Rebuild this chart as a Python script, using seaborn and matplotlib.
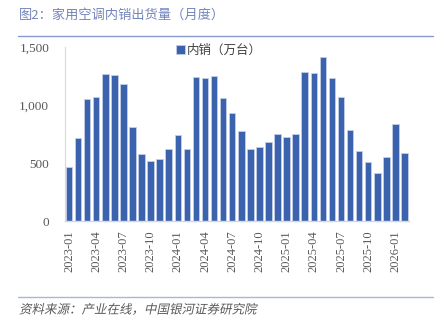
import matplotlib
matplotlib.use("Agg")
import matplotlib.pyplot as plt
import seaborn as sns
import pandas as pd
from matplotlib.patches import Patch
from matplotlib.lines import Line2D
from matplotlib.patheffects import AbstractPathEffect
from matplotlib.transforms import Affine2D

# ---------------- data ----------------
months = [
    "2023-01", "2023-02", "2023-03", "2023-04", "2023-05", "2023-06",
    "2023-07", "2023-08", "2023-09", "2023-10", "2023-11", "2023-12",
    "2024-01", "2024-02", "2024-03", "2024-04", "2024-05", "2024-06",
    "2024-07", "2024-08", "2024-09", "2024-10", "2024-11", "2024-12",
    "2025-01", "2025-02", "2025-03", "2025-04", "2025-05", "2025-06",
    "2025-07", "2025-08", "2025-09", "2025-10", "2025-11", "2025-12",
    "2026-01", "2026-02",
]
domestic_sales = [
    465, 716, 1057, 1072, 1272, 1264, 1186, 810, 580, 520, 537, 626,
    744, 621, 1241, 1238, 1254, 1066, 933, 776, 621, 638, 684, 747,
    729, 747, 1284, 1281, 1419, 1238, 1069, 787, 606, 509, 416, 552,
    836, 591,
]
series_label = "内销（万台）"
title_text = "图2：家用空调内销出货量（月度）"
source_text = "资料来源：产业在线，中国银河证券研究院"
yticks = [0, 500, 1000, 1500]
ytick_labels = ["0", "500", "1,000", "1,500"]

df = pd.DataFrame({"month": months, "value": domestic_sales})

BAR = "#3b63ad"
CJK = ["Noto Sans CJK SC", "DejaVu Sans"]
SERIF = ["Liberation Serif", "DejaVu Serif"]


class Skew(AbstractPathEffect):
    def __init__(self, deg=12):
        super().__init__()
        self.deg = deg

    def draw_path(self, renderer, gc, tpath, affine, rgbFace=None):
        renderer.draw_path(gc, tpath, Affine2D().skew_deg(self.deg, 0) + affine, rgbFace)


sns.set_theme(style="white")
plt.rcParams["font.family"] = CJK

fig = plt.figure(figsize=(4.4, 3.34), dpi=100)
ax = fig.add_axes([64.5 / 440, 1 - 221 / 334, (409 - 64.5) / 440, (221 - 47.3) / 334])

sns.barplot(data=df, x="month", y="value", color=BAR, saturation=1, width=0.72,
            edgecolor="#c4cfe8", linewidth=0.6, ax=ax)

ax.set_xlim(-0.5, len(months) - 0.5)
ax.set_ylim(0, 1500)
ax.set_yticks(yticks)
ax.set_yticklabels(ytick_labels, family=SERIF, fontsize=9.5, color="#595959")
pos = list(range(0, len(months), 3))
ax.set_xticks(pos)
ax.set_xticklabels([months[i] for i in pos], rotation=90, family=SERIF,
                   fontsize=9, color="#595959")
ax.tick_params(axis="y", length=0, pad=11)
ax.tick_params(axis="x", length=0, pad=7)
ax.set_xlabel("")
ax.set_ylabel("")
for s in ["top", "right"]:
    ax.spines[s].set_visible(False)
ax.spines["left"].set_color("#d9d9d9")
ax.spines["left"].set_linewidth(0.8)
ax.spines["bottom"].set_color("#cdd6ea")
ax.spines["bottom"].set_linewidth(1.0)

handle = Patch(facecolor=BAR, edgecolor="#c4cfe8", linewidth=0.6)
leg = ax.legend([handle], [series_label], loc="center left",
                bbox_to_anchor=((176 - 64.5) / 344.5, 1 - (50 - 47.3) / 173.7),
                frameon=False, fontsize=9, handlelength=0.75, handleheight=0.75,
                handletextpad=0.15, borderpad=0, borderaxespad=0)
for t in leg.get_texts():
    t.set_color("#404040")

# title and rules
fig.text(19 / 440, 1 - 15 / 334, title_text, fontsize=9.5, color="#7285bb",
         ha="left", va="center", family=CJK)
fig.add_artist(Line2D([18 / 440, 433 / 440], [1 - 36 / 334, 1 - 36 / 334],
                      color="#8a9bcb", linewidth=1.0))
fig.add_artist(Line2D([18 / 440, 433 / 440], [1 - 297 / 334, 1 - 297 / 334],
                      color="#a9b6da", linewidth=1.0))
fig.text(19 / 440, 1 - 310 / 334, source_text, fontsize=9, color="#595959",
         ha="left", va="center", family=CJK, path_effects=[Skew(12)])

fig.savefig("out.png", dpi=100)
